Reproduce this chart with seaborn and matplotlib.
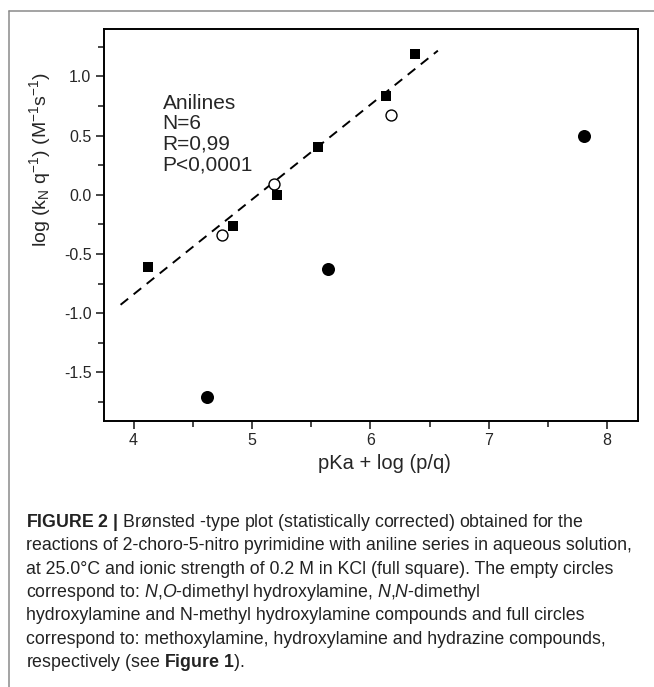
import numpy as np
import pandas as pd
import seaborn as sns
import matplotlib.pyplot as plt
from matplotlib.lines import Line2D
from matplotlib.ticker import MultipleLocator

# data
anilines_x = [4.12, 4.84, 5.21, 5.555, 6.13, 6.38]
anilines_y = [-0.61, -0.26, 0.00, 0.40, 0.83, 1.19]
empty_x = [4.75, 5.19, 6.175]
empty_y = [-0.34, 0.095, 0.67]
full_x = [4.62, 5.64, 7.80]
full_y = [-1.71, -0.63, 0.50]
fit_x_range = [3.89, 6.57]

annot_text = "Anilines\nN=6\nR=0,99\nP<0,0001"
x_label = "pKa + log (p/q)"
y_label = r"log (k$_\mathregular{N}$ q$^\mathregular{-1}$) (M$^\mathregular{-1}$s$^\mathregular{-1}$)"

caption = [
    r"$\mathbf{FIGURE\ 2\ |}$ Brønsted -type plot (statistically corrected) obtained for the",
    "reactions of 2-choro-5-nitro pyrimidine with aniline series in aqueous solution,",
    "at 25.0°C and ionic strength of 0.2 M in KCl (full square). The empty circles",
    r"correspond to: $\mathit{N}$,$\mathit{O}$-dimethyl hydroxylamine, $\mathit{N}$,$\mathit{N}$-dimethyl",
    "hydroxylamine and N-methyl hydroxylamine compounds and full circles",
    "correspond to: methoxylamine, hydroxylamine and hydrazine compounds,",
    r"respectively (see $\mathbf{Figure\ 1}$).",
]

sns.set_theme(style="ticks")
plt.rcParams['font.family'] = ['Liberation Sans', 'DejaVu Sans']
plt.rcParams['mathtext.fontset'] = 'custom'
plt.rcParams['mathtext.rm'] = 'Liberation Sans'
plt.rcParams['mathtext.it'] = 'Liberation Sans:italic'
plt.rcParams['mathtext.bf'] = 'Liberation Sans:bold'
plt.rcParams['axes.unicode_minus'] = False

df_anil = pd.DataFrame({'x': anilines_x, 'y': anilines_y})
df_empty = pd.DataFrame({'x': empty_x, 'y': empty_y})
df_full = pd.DataFrame({'x': full_x, 'y': full_y})

# linear fit of the aniline series
slope, intercept = np.polyfit(anilines_x, anilines_y, 1)
df_fit = pd.DataFrame({'x': fit_x_range,
                       'y': [slope * v + intercept for v in fit_x_range]})

fig = plt.figure(figsize=(6.54, 6.87), dpi=100)
ax = fig.add_axes([0.159, 0.3872, 0.8165, 0.5706])

sns.lineplot(data=df_fit, x='x', y='y', ax=ax, color='black', linewidth=1.4,
             dashes=False, zorder=1)
ax.lines[-1].set_dashes((5, 3.6))

sns.scatterplot(data=df_anil, x='x', y='y', ax=ax, marker='s', s=62,
                color='black', edgecolor='black', linewidth=0, zorder=3)
sns.scatterplot(data=df_empty, x='x', y='y', ax=ax, marker='o', s=62,
                facecolor='white', edgecolor='black', linewidth=1.0, zorder=3)
sns.scatterplot(data=df_full, x='x', y='y', ax=ax, marker='o', s=88,
                color='black', edgecolor='black', linewidth=0, zorder=3)

ax.set_xlim(3.75, 8.26)
ax.set_ylim(-1.91, 1.40)
ax.xaxis.set_major_locator(MultipleLocator(1))
ax.xaxis.set_minor_locator(MultipleLocator(0.5))
ax.yaxis.set_major_locator(MultipleLocator(0.5))
ax.yaxis.set_minor_locator(MultipleLocator(0.25))
ax.tick_params(which='major', length=6, width=1.2, labelsize=11.5, pad=3)
ax.tick_params(which='minor', length=4, width=1.2)
for sp in ax.spines.values():
    sp.set_linewidth(1.4)
    sp.set_color('black')

ax.set_xlabel(x_label, fontsize=14.5)
ax.set_ylabel(y_label, fontsize=14)
ax.xaxis.set_label_coords(0.526, -0.084)
ax.yaxis.set_label_coords(-0.096, 0.668)

ax.text(0.11, 0.835, annot_text, transform=ax.transAxes, fontsize=15,
        va='top', ha='left', linespacing=1.1)

# caption under the plot
for i, line in enumerate(caption):
    fig.text(26 / 654, 1 - (527 + i * 23.3) / 687, line, fontsize=12.8,
             color='#222222', ha='left', va='baseline')

# thin frame round the figure (top and left)
fig.add_artist(Line2D([0.0133, 1.0], [0.9847, 0.9847], color='#8a8a8a',
                      linewidth=1.1, transform=fig.transFigure))
fig.add_artist(Line2D([0.0133, 0.0133], [0.0, 0.9847], color='#8a8a8a',
                      linewidth=1.1, transform=fig.transFigure))

fig.savefig('out.png', dpi=100)
